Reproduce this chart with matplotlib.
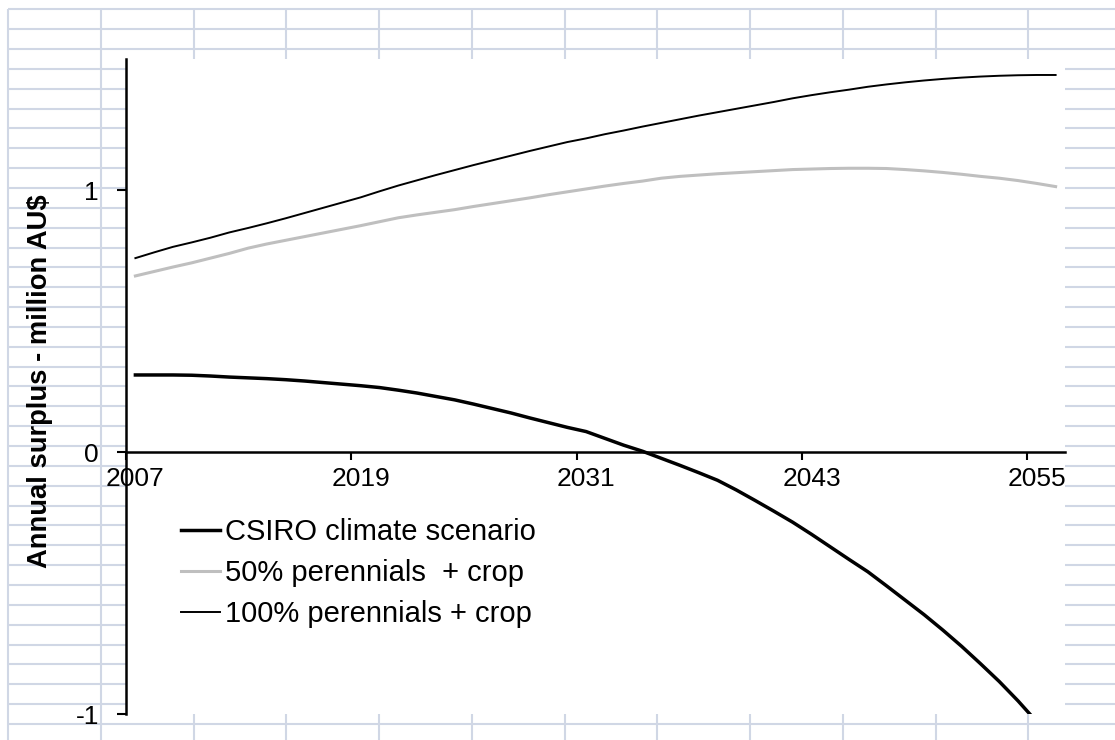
import matplotlib
matplotlib.use("Agg")
import matplotlib.pyplot as plt
import numpy as np

plt.rcParams["font.family"] = ["Liberation Sans", "DejaVu Sans"]

# annual surplus, million AU$, one value per year 2007-2056
years = list(range(2007, 2057))

csiro = [0.294, 0.294, 0.294, 0.293, 0.290, 0.286, 0.283, 0.280, 0.276, 0.271,
         0.265, 0.259, 0.253, 0.246, 0.236, 0.225, 0.212, 0.199, 0.183, 0.166,
         0.149, 0.130, 0.112, 0.094, 0.078, 0.052, 0.026, 0.003, -0.024, -0.051,
         -0.079, -0.108, -0.145, -0.185, -0.226, -0.268, -0.314, -0.362, -0.410, -0.457,
         -0.511, -0.566, -0.621, -0.680, -0.742, -0.808, -0.876, -0.950, -1.030, -1.110]

perennials_50 = [0.672, 0.689, 0.706, 0.722, 0.740, 0.758, 0.778, 0.794, 0.808, 0.822,
                 0.836, 0.850, 0.864, 0.879, 0.894, 0.905, 0.915, 0.925, 0.937, 0.948,
                 0.959, 0.970, 0.982, 0.993, 1.004, 1.015, 1.025, 1.034, 1.045, 1.052,
                 1.057, 1.062, 1.066, 1.070, 1.074, 1.078, 1.080, 1.082, 1.083, 1.083,
                 1.082, 1.078, 1.073, 1.067, 1.060, 1.052, 1.045, 1.036, 1.025, 1.013]

perennials_100 = [0.740, 0.762, 0.783, 0.800, 0.818, 0.838, 0.855, 0.873, 0.892, 0.912,
                  0.932, 0.952, 0.972, 0.995, 1.017, 1.037, 1.057, 1.076, 1.095, 1.113,
                  1.131, 1.149, 1.166, 1.183, 1.197, 1.213, 1.227, 1.242, 1.256, 1.270,
                  1.284, 1.297, 1.310, 1.323, 1.336, 1.350, 1.362, 1.373, 1.383, 1.394,
                  1.403, 1.411, 1.418, 1.424, 1.429, 1.433, 1.436, 1.438, 1.439, 1.439]

labels = ["CSIRO climate scenario", "50% perennials  + crop", "100% perennials + crop"]
year_labels = [2007, 2019, 2031, 2043, 2055]

W, H = 1115, 740
fig = plt.figure(figsize=(W / 100, H / 100), dpi=100)
fig.patch.set_facecolor("white")

# worksheet cells behind the chart
bg = fig.add_axes([0, 0, 1, 1], zorder=0)
bg.set_xlim(0, W)
bg.set_ylim(H, 0)
bg.axis("off")
cell_color = "#D0D7E5"
for k in range(37):
    y = 9.3 + k * 19.85
    bg.plot([8, W], [y, y], color=cell_color, lw=1.5, solid_capstyle="butt")
for k in range(12):
    x = 8 + k * 92.75
    bg.plot([x, x], [9.3, H], color=cell_color, lw=1.5, solid_capstyle="butt")

# plot area
x0, x1 = 126, 1065
y_top, y_bot = 59, 714
ax = fig.add_axes([x0 / W, 1 - y_bot / H, (x1 - x0) / W, (y_bot - y_top) / H], zorder=1)
ax.set_facecolor("white")

ax.plot(years, csiro, color="black", lw=2.5, label=labels[0])
ax.plot(years, perennials_50, color="#BFBFBF", lw=2.2, label=labels[1])
ax.plot(years, perennials_100, color="black", lw=1.4, label=labels[2])

ax.set_xlim(2006.5, 2056.5)
ax.set_ylim(-1, 1.5)

for s in ["top", "right"]:
    ax.spines[s].set_visible(False)
ax.spines["left"].set_linewidth(1.8)
ax.spines["bottom"].set_position(("data", 0))
ax.spines["bottom"].set_linewidth(1.8)

ax.set_yticks([-1, 0, 1])
ax.set_yticklabels(["-1", "0", "1"])
ax.tick_params(axis="y", direction="out", length=6.5, width=1.5, pad=13, labelsize=19)

# tick marks sit between categories, labels under the category centres
ax.set_xticks([y - 0.5 for y in year_labels])
ax.set_xticklabels([])
ax.set_xticks(year_labels, minor=True)
ax.set_xticklabels([str(y) for y in year_labels], minor=True)
ax.tick_params(axis="x", which="major", direction="out", length=5.8, width=1.5)
ax.tick_params(axis="x", which="minor", length=0, pad=11, labelsize=19)

fig.text(40 / W, 1 - 381 / H, "Annual surplus - million AU$", rotation=90,
         ha="center", va="center", fontsize=19.7, fontweight="bold")

ax.legend(loc="upper left", bbox_to_anchor=(181 / W, 1 - 518 / H),
          bbox_transform=fig.transFigure, frameon=False, fontsize=21,
          handlelength=1.34, handletextpad=0.17, labelspacing=0.45, borderpad=0,
          borderaxespad=0)

fig.savefig("out.png", dpi=100)
